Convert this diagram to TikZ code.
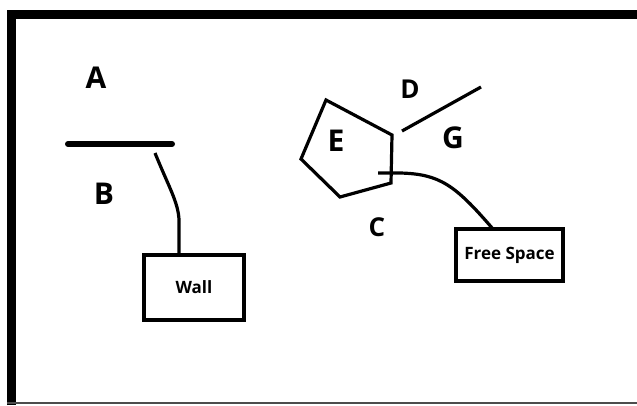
\documentclass[tikz,border=0pt]{standalone}
\usepackage{fontspec}
\setmainfont{Open Sans}

\tikzset{
  lbl/.style={font=\bfseries\fontsize{30}{30}\selectfont},
  smlbl/.style={font=\bfseries\fontsize{26}{26}\selectfont},
  tagbox/.style={draw,line width=3.2pt,font=\bfseries\fontsize{17}{17}\selectfont,inner sep=0pt},
  wire/.style={line width=3.2pt}
}

\begin{document}
\begin{tikzpicture}[x=1pt,y=-1pt,line join=miter]
    \useasboundingbox (0,0) rectangle (637,405);
    % frame
    \draw[line width=9pt] (11.5,405) -- (11.5,14.5) -- (640,14.5);
    \draw[line width=2pt,black!70] (7,403) -- (640,403);
    % wall side
    \node[lbl] (A) at (96,78) {A};
    \node[lbl] (B) at (104,194) {B};
    \draw[line width=6pt,line cap=round] (68,144) -- (172,144);
    \coordinate (wallend) at (155,153);
    \node[tagbox,minimum width=100pt,minimum height=65pt] (wall) at (194,287.5) {Wall};
    \draw[wire] (wallend) .. controls (170,190) and (180,205) .. (179,225) -- (wall.north -| 179,0);
    % pentagon side
    \draw[wire] (326,100) -- (392,135) -- (391,183) -- (340,197) -- (301,159) -- cycle;
    \draw[wire] (402,131) -- (481,87);
    \node[lbl] (E) at (336,141) {E};
    \node[lbl] (G) at (453,138) {G};
    \node[smlbl] (D) at (410,89) {D};
    \node[smlbl] (C) at (377,227) {C};
    \coordinate (freeend) at (378,173);
    \node[tagbox,minimum width=107pt,minimum height=52pt] (free) at (509.5,255) {Free Space};
    \draw[wire] (freeend) -- (400,173) .. controls (440,174) and (455,185) .. (493,229);
\end{tikzpicture}
\end{document}
